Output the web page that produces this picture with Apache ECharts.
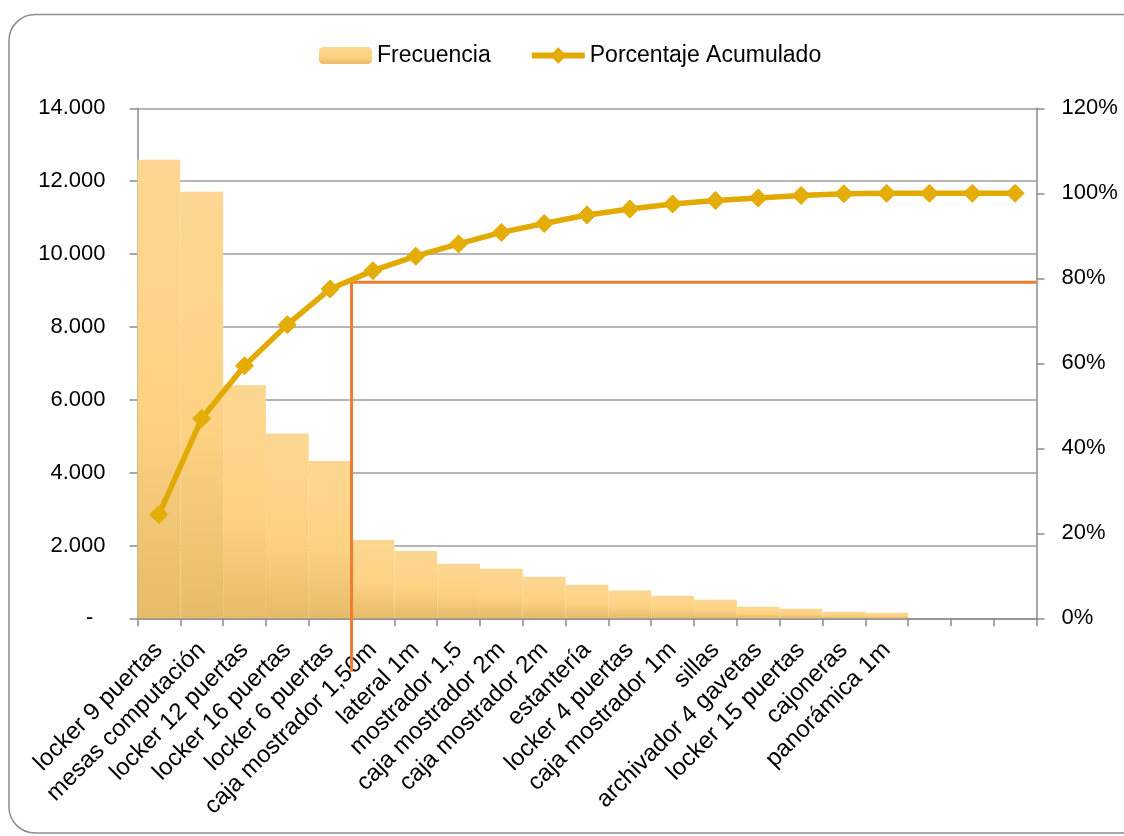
<!DOCTYPE html>
<html>
<head>
<meta charset="utf-8">
<script src="https://cdn.jsdelivr.net/npm/echarts@6/dist/echarts.min.js"></script>
<style>
html,body{margin:0;padding:0;background:#fff;}
#chart{width:1124px;height:836px;}
</style>
</head>
<body>
<div id="chart"></div>
<script>
// ---- data ----
const categories = ['locker 9 puertas','mesas computación','locker 12 puertas','locker 16 puertas','locker 6 puertas','caja mostrador 1,50m','lateral 1m','mostrador 1,5','caja mostrador 2m','caja mostrador 2m','estantería','locker 4 puertas','caja mostrador 1m','sillas','archivador 4 gavetas','locker 15 puertas','cajoneras','panorámica 1m','','',''];
const frecuencia = [12590, 11710, 6400, 5070, 4320, 2150, 1850, 1500, 1360, 1140, 920, 760, 620, 510, 320, 265, 180, 150, null, null, null];
const porcentajeAcumulado = [24.4, 47.0, 59.4, 69.1, 77.5, 81.8, 85.2, 88.1, 90.8, 92.9, 94.9, 96.3, 97.5, 98.3, 98.9, 99.5, 99.9, 100, 100, 100, 100];
const leftTicks = [0, 14000, 2000];   // min, max, interval
const rightTicks = [0, 120, 20];      // min, max, interval (%)
// Pareto cut-off guide (category boundary index, percentage level, lower end in %)
const cutoffBoundary = 5;
const cutoffPct = 79.1;
const cutoffLowPct = -12.6;

const FONT = 'Liberation Sans';
const chart = echarts.init(document.getElementById('chart'), null, {renderer: 'canvas'});

const guideData = [[cutoffBoundary, cutoffLowPct], [cutoffBoundary, cutoffPct], [categories.length, cutoffPct]];

const barGradient = new echarts.graphic.LinearGradient(0, 0, 0, 1, [
  {offset: 0, color: '#FDD792'},
  {offset: 0.55, color: '#FDD283'},
  {offset: 1, color: '#E6BC6A'}
]);

chart.setOption({
  animation: false,
  textStyle: {fontFamily: FONT},
  graphic: [{
    type: 'rect', z: -10, silent: true,
    shape: {x: 9, y: 14.5, width: 1140, height: 818.5, r: 26},
    style: {fill: 'none', stroke: '#8c8c8c', lineWidth: 1.5}
  }],
  legend: {
    data: [
      {name: 'Frecuencia'},
      {name: 'Porcentaje Acumulado', lineStyle: {width: 6, color: '#E2AA00'}, itemStyle: {color: '#E5AD08'}}
    ],
    left: 319, top: 44, padding: 0,
    itemWidth: 53, itemHeight: 17, itemGap: 38,
    textStyle: {fontFamily: FONT, fontSize: 23, color: '#000'}
  },
  grid: {left: 137.5, right: 87.5, top: 108.3, bottom: 836 - 618.3, containLabel: false},
  xAxis: [{
    type: 'category',
    data: categories,
    boundaryGap: true,
    axisLine: {show: true, lineStyle: {color: '#8c8c8c', width: 1.5}},
    axisTick: {show: true, length: 8, interval: 0, lineStyle: {color: '#8c8c8c', width: 1.5}},
    axisLabel: {interval: 0, rotate: 45, margin: 28, fontFamily: FONT, fontSize: 24, color: '#000'}
  }, {
    type: 'value', min: 0, max: categories.length, show: false
  }],
  yAxis: [{
    type: 'value',
    min: leftTicks[0], max: leftTicks[1], interval: leftTicks[2],
    axisLine: {show: true, lineStyle: {color: '#8c8c8c', width: 1.5}},
    axisTick: {show: true, length: 8, lineStyle: {color: '#8c8c8c', width: 1.5}},
    splitLine: {show: true, lineStyle: {color: '#9c9c9c', width: 1.5}},
    axisLabel: {
      margin: 32, fontFamily: FONT, fontSize: 22, color: '#000',
      formatter: v => v === 0 ? '-  ' : v.toLocaleString('de-DE')
    }
  }, {
    type: 'value',
    min: rightTicks[0], max: rightTicks[1], interval: rightTicks[2],
    position: 'right',
    axisLine: {show: true, lineStyle: {color: '#8c8c8c', width: 1.5}},
    axisTick: {show: true, length: 8, lineStyle: {color: '#8c8c8c', width: 1.5}},
    splitLine: {show: false},
    axisLabel: {margin: 25, fontFamily: FONT, fontSize: 22, color: '#000', formatter: '{value}%'}
  }],
  series: [{
    name: 'Frecuencia',
    type: 'bar',
    data: frecuencia,
    barCategoryGap: '0%',
    itemStyle: {color: barGradient},
    z: 2
  }, {
    name: 'guide',
    type: 'line',
    xAxisIndex: 1, yAxisIndex: 1,
    data: guideData,
    symbol: 'none',
    clip: false,
    lineStyle: {color: '#ED7D31', width: 3},
    z: 3,
    silent: true
  }, {
    name: 'Porcentaje Acumulado',
    type: 'line',
    yAxisIndex: 1,
    data: porcentajeAcumulado,
    symbol: 'diamond',
    symbolSize: 18,
    lineStyle: {color: '#E2AA00', width: 5.5},
    itemStyle: {color: '#E5AD08', borderColor: '#E2AA00', borderWidth: 1},
    z: 4
  }]
});
</script>
</body>
</html>
